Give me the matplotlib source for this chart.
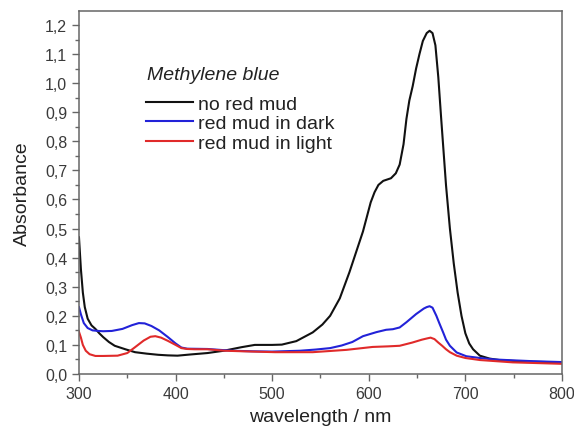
import matplotlib
matplotlib.use('Agg')
import matplotlib.pyplot as plt
from matplotlib import ticker

plt.rcParams['font.family'] = ['Liberation Sans', 'DejaVu Sans']

# spectra (wavelength in nm, absorbance)
wl_black = [300, 302, 304, 306, 309, 313, 317, 321, 325, 331, 337, 348, 358, 370, 382,
            392, 402, 415, 433, 450, 468, 482, 500, 510, 525, 542, 552, 560, 570, 580,
            588, 594, 598, 602, 606, 610, 615, 623, 628, 632, 636, 639, 642, 645.5, 649,
            652.5, 656, 660, 663, 666, 669, 672, 675, 680, 684, 688, 692, 696, 700, 704,
            708, 715, 725, 735, 749, 770, 800]
a_black = [0.47, 0.36, 0.28, 0.23, 0.19, 0.167, 0.155, 0.14, 0.127, 0.11, 0.097, 0.085,
           0.075, 0.07, 0.066, 0.064, 0.063, 0.067, 0.072, 0.08, 0.092, 0.1, 0.1, 0.101,
           0.113, 0.143, 0.17, 0.2, 0.26, 0.35, 0.43, 0.49, 0.54, 0.59, 0.625, 0.65,
           0.664, 0.673, 0.69, 0.72, 0.79, 0.877, 0.94, 0.99, 1.05, 1.10, 1.145, 1.172,
           1.18, 1.172, 1.13, 1.02, 0.877, 0.648, 0.50, 0.38, 0.28, 0.20, 0.14, 0.105,
           0.085, 0.063, 0.053, 0.048, 0.045, 0.042, 0.04]

wl_blue = [300, 302, 305, 309, 314, 320, 325, 334, 345, 355, 362, 368, 375, 383, 392,
           400, 406, 412, 433, 458, 480, 500, 529, 545, 560, 572, 583, 594, 608, 618,
           625, 632, 639, 649, 657, 660, 663, 666, 670, 673, 677, 680, 684, 691, 701,
           715, 730, 749, 770, 800]
a_blue = [0.23, 0.205, 0.175, 0.158, 0.15, 0.148, 0.147, 0.148, 0.155, 0.168, 0.175,
          0.174, 0.165, 0.15, 0.127, 0.105, 0.091, 0.087, 0.086, 0.08, 0.078, 0.077, 0.08,
          0.084, 0.089, 0.098, 0.11, 0.13, 0.144, 0.152, 0.154, 0.16, 0.178, 0.206, 0.225,
          0.23, 0.233, 0.228, 0.20, 0.175, 0.143, 0.118, 0.097, 0.074, 0.061, 0.055,
          0.05, 0.047, 0.044, 0.041]

wl_red = [300, 302, 304, 307, 311, 317, 325, 340, 350, 358, 367, 374, 379, 385, 392,
          400, 406, 412, 420, 433, 451, 470, 503, 542, 577, 604, 620, 632, 645, 655, 660,
          664, 668, 672, 676, 680, 684, 691, 700, 715, 749, 800]
a_red = [0.145, 0.125, 0.1, 0.08, 0.068, 0.062, 0.062, 0.063, 0.072, 0.092, 0.115, 0.128,
         0.13, 0.125, 0.114, 0.1, 0.089, 0.086, 0.085, 0.085, 0.08, 0.078, 0.075, 0.075,
         0.083, 0.093, 0.095, 0.097, 0.108, 0.118, 0.122, 0.125, 0.12, 0.108, 0.097,
         0.085, 0.075, 0.063, 0.055, 0.048, 0.04, 0.035]

labels = ['no red mud', 'red mud in dark', 'red mud in light']
colors = ['#111111', '#2222d8', '#e02a2a']

fig = plt.figure(figsize=(5.74, 4.27), dpi=100)
ax = fig.add_axes([0.1376, 0.1218, 0.8414, 0.8501])

ax.plot(wl_black, a_black, color=colors[0], lw=1.5, label=labels[0])
ax.plot(wl_blue, a_blue, color=colors[1], lw=1.5, label=labels[1])
ax.plot(wl_red, a_red, color=colors[2], lw=1.5, label=labels[2])

ax.set_xlim(300, 800)
ax.set_ylim(0, 1.248)
ax.xaxis.set_major_locator(ticker.MultipleLocator(100))
ax.xaxis.set_minor_locator(ticker.MultipleLocator(50))
ax.yaxis.set_major_locator(ticker.MultipleLocator(0.1))
ax.yaxis.set_minor_locator(ticker.MultipleLocator(0.05))
ax.yaxis.set_major_formatter(ticker.FuncFormatter(lambda v, p: ('%.1f' % v).replace('.', ',')))

for s in ax.spines.values():
    s.set_color('#666666')
    s.set_linewidth(1.1)
ax.tick_params(which='both', direction='out', color='#666666', width=1.0,
               labelsize=11.5, labelcolor='#3a3a3a', top=False, right=False)
ax.tick_params(which='major', length=5, pad=3.5)
ax.tick_params(which='minor', length=3)

ax.set_xlabel('wavelength / nm', fontsize=14, color='#222222', labelpad=5)
ax.set_ylabel('Absorbance', fontsize=14, color='#222222', labelpad=10)

# legend title drawn on its own, the rows sit a bit lower
fig.text(147 / 574, 1 - 76 / 427, 'Methylene blue', fontsize=14, style='italic',
         color='#222222', ha='left', va='center')
leg = ax.legend(loc='upper left', bbox_to_anchor=(146 / 574, 1 - 96 / 427),
                bbox_transform=fig.transFigure, frameon=False, fontsize=14,
                handlelength=2.4, handletextpad=0.3, labelspacing=0.1,
                borderpad=0, borderaxespad=0)
for t in leg.get_texts():
    t.set_color('#222222')

fig.savefig('out.png', dpi=100)
